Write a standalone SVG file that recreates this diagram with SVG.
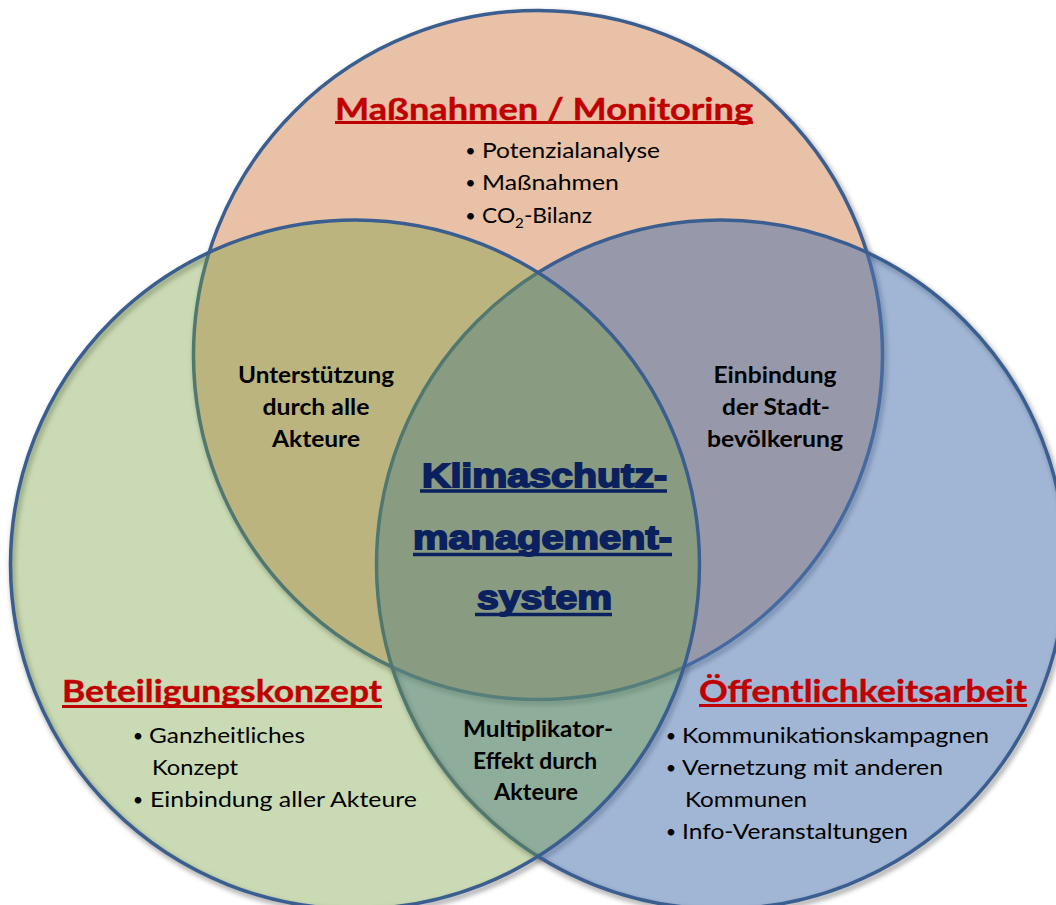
<svg xmlns="http://www.w3.org/2000/svg" width="1056" height="905" viewBox="0 0 1056 905">
<defs>
<filter id="blur" x="-10%" y="-10%" width="120%" height="120%"><feGaussianBlur stdDeviation="2.5"/></filter>
</defs>
<style>
.ring{fill:none;stroke:#000;stroke-opacity:.35;stroke-width:5;filter:url(#blur)}
.c{stroke:#3B5E91;stroke-width:3.5}
.title{font-family:Lato,"Liberation Sans",sans-serif;font-weight:700;font-size:31px;fill:#C00000;stroke:#C00000;stroke-width:0.4}
.ul{stroke:#C00000;stroke-width:3}
.b{font-family:Lato,"Liberation Sans",sans-serif;font-size:21px;fill:#000}
.dot{font-family:Lato,"Liberation Sans",sans-serif;font-size:18px;fill:#000;text-anchor:middle}
.lab{font-family:Lato,"Liberation Sans",sans-serif;font-weight:700;font-size:22px;fill:#000;text-anchor:middle}
.ctr{font-family:"Liberation Sans",Arial,sans-serif;font-weight:700;font-size:34px;fill:#0B205F;stroke:#0B205F;stroke-width:1.8}
.cul{stroke:#0B205F;stroke-width:3.5}
</style>
<g id="shadows" transform="translate(2,3)">
<circle class="ring" cx="538" cy="355" r="344.5"/>
<circle class="ring" cx="721" cy="564.5" r="344.5"/>
<circle class="ring" cx="355" cy="564.5" r="344.5"/>
</g>
<g id="circles">
<circle id="circle-top" class="c" cx="538" cy="355" r="344.5" fill="#E9C1A7"/>
<circle id="circle-right" class="c" cx="721" cy="564.5" r="344.5" fill="#4D75AF" fill-opacity="0.53"/>
<circle id="circle-left" class="c" cx="355" cy="564.5" r="344.5" fill="#75A041" fill-opacity="0.39"/>
</g>
<g id="node-massnahmen">
<text class="title" x="335" y="119.5" textLength="418" lengthAdjust="spacingAndGlyphs">Maßnahmen / Monitoring</text>
<line class="ul" x1="335" y1="122.5" x2="753" y2="122.5"/>
<text class="dot" x="470.5" y="157">•</text>
<text class="b" x="482" y="158" textLength="178" lengthAdjust="spacingAndGlyphs">Potenzialanalyse</text>
<text class="dot" x="470.5" y="189">•</text>
<text class="b" x="482" y="190" textLength="137" lengthAdjust="spacingAndGlyphs">Maßnahmen</text>
<text class="dot" x="470.5" y="221.5">•</text>
<text class="b" x="482" y="222.5" textLength="110" lengthAdjust="spacingAndGlyphs">CO<tspan font-size="14" dy="5">2</tspan><tspan dy="-5">-Bilanz</tspan></text>
</g>
<g id="node-beteiligung">
<text class="title" x="62" y="702" textLength="320" lengthAdjust="spacingAndGlyphs">Beteiligungskonzept</text>
<line class="ul" x1="62" y1="706.5" x2="382" y2="706.5"/>
<text class="dot" x="138" y="742">•</text>
<text class="b" x="149" y="743" textLength="156" lengthAdjust="spacingAndGlyphs">Ganzheitliches</text>
<text class="b" x="152" y="775" textLength="86" lengthAdjust="spacingAndGlyphs">Konzept</text>
<text class="dot" x="138" y="806">•</text>
<text class="b" x="150" y="807" textLength="267" lengthAdjust="spacingAndGlyphs">Einbindung aller Akteure</text>
</g>
<g id="node-oeffentlichkeit">
<text class="title" x="699" y="702" textLength="328" lengthAdjust="spacingAndGlyphs">Öffentlichkeitsarbeit</text>
<line class="ul" x1="699" y1="705.5" x2="1027" y2="705.5"/>
<text class="dot" x="671" y="742">•</text>
<text class="b" x="682" y="743" textLength="307" lengthAdjust="spacingAndGlyphs">Kommunikationskampagnen</text>
<text class="dot" x="671" y="774">•</text>
<text class="b" x="682" y="775" textLength="261" lengthAdjust="spacingAndGlyphs">Vernetzung mit anderen</text>
<text class="b" x="685" y="807" textLength="122" lengthAdjust="spacingAndGlyphs">Kommunen</text>
<text class="dot" x="671" y="838">•</text>
<text class="b" x="682" y="839" textLength="226" lengthAdjust="spacingAndGlyphs">Info-Veranstaltungen</text>
</g>
<g id="node-unterstuetzung">
<text class="lab" x="316" y="383" textLength="156" lengthAdjust="spacingAndGlyphs">Unterstützung</text>
<text class="lab" x="316" y="415" textLength="107" lengthAdjust="spacingAndGlyphs">durch alle</text>
<text class="lab" x="316" y="447" textLength="88" lengthAdjust="spacingAndGlyphs">Akteure</text>
</g>
<g id="node-einbindung">
<text class="lab" x="775" y="383" textLength="123" lengthAdjust="spacingAndGlyphs">Einbindung</text>
<text class="lab" x="776" y="415" textLength="108" lengthAdjust="spacingAndGlyphs">der Stadt-</text>
<text class="lab" x="775" y="447" textLength="136" lengthAdjust="spacingAndGlyphs">bevölkerung</text>
</g>
<g id="node-multiplikator">
<text class="lab" x="538" y="737" textLength="150" lengthAdjust="spacingAndGlyphs">Multiplikator-</text>
<text class="lab" x="535" y="768.5" textLength="124" lengthAdjust="spacingAndGlyphs">Effekt durch</text>
<text class="lab" x="536" y="800" textLength="84" lengthAdjust="spacingAndGlyphs">Akteure</text>
</g>
<g id="node-center">
<text class="ctr" x="422" y="486.5" textLength="245" lengthAdjust="spacingAndGlyphs">Klimaschutz-</text>
<line class="cul" x1="420" y1="491" x2="667" y2="491"/>
<text class="ctr" x="413" y="548.5" textLength="259" lengthAdjust="spacingAndGlyphs">management-</text>
<line class="cul" x1="413" y1="554.5" x2="672" y2="554.5"/>
<text class="ctr" x="477" y="608.5" textLength="135" lengthAdjust="spacingAndGlyphs">system</text>
<line class="cul" x1="475" y1="614.5" x2="612" y2="614.5"/>
</g>
</svg>
